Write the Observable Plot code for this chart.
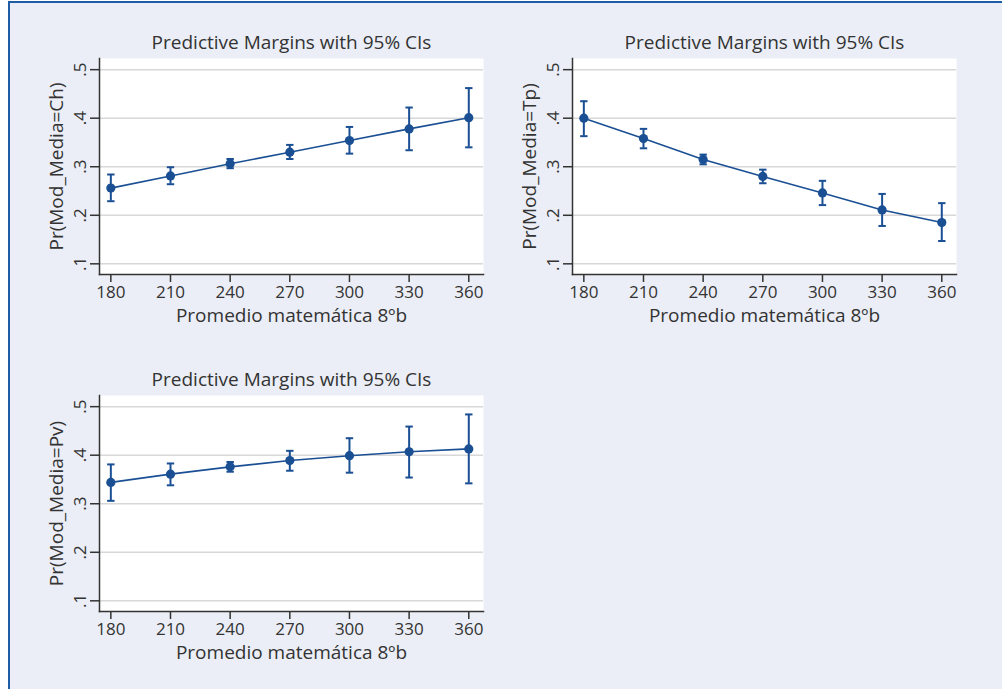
<!DOCTYPE html>
<html>
<head>
<meta charset="utf-8">
<script src="https://cdn.jsdelivr.net/npm/d3@7"></script>
<script src="https://cdn.jsdelivr.net/npm/@observablehq/plot@0.6"></script>
<style>
  html, body { margin: 0; padding: 0; background: #ffffff; }
  #page { position: relative; width: 1002px; height: 689px; overflow: hidden; background: #ffffff; }
  #frame { position: absolute; left: 8px; top: 1px; right: 0; bottom: 0;
           background: #ebeef6; border-top: 2px solid #1f5ca6; border-left: 2px solid #1f5ca6; }
  .panel { position: absolute; }
  .panel svg { overflow: visible; }
</style>
</head>
<body>
<div id="page"><div id="frame"></div></div>
<script>
// Predicted probability of each media type by 8th-grade math score
const scores = [180, 210, 240, 270, 300, 330, 360];

const chMargin = [0.256, 0.281, 0.306, 0.330, 0.354, 0.378, 0.401];
const chLow    = [0.229, 0.264, 0.297, 0.316, 0.327, 0.334, 0.340];
const chHigh   = [0.284, 0.299, 0.316, 0.345, 0.382, 0.422, 0.462];

const tpMargin = [0.400, 0.358, 0.315, 0.280, 0.246, 0.211, 0.185];
const tpLow    = [0.363, 0.338, 0.305, 0.266, 0.221, 0.178, 0.147];
const tpHigh   = [0.435, 0.378, 0.325, 0.294, 0.271, 0.244, 0.225];

const pvMargin = [0.344, 0.361, 0.376, 0.389, 0.399, 0.407, 0.413];
const pvLow    = [0.306, 0.338, 0.366, 0.368, 0.364, 0.354, 0.342];
const pvHigh   = [0.381, 0.383, 0.386, 0.409, 0.435, 0.459, 0.484];

const xTicks = [180, 210, 240, 270, 300, 330, 360];
const yTicks = [0.1, 0.2, 0.3, 0.4, 0.5];

const panelTitle = "Predictive Margins with 95% CIs";
const xTitle = "Promedio matemática 8ºb";
const yTitles = ["Pr(Mod_Media=Ch)", "Pr(Mod_Media=Tp)", "Pr(Mod_Media=Pv)"];

const blue = "#1a4f94";
const ink = "#333333";
const font = "'Open Sans', sans-serif";
const tickFs = 17;
const titleFs = 19;

// horizontal cap drawn at each end of a confidence interval
const capSymbol = {
  draw(ctx, size) {
    const w = Math.sqrt(size / Math.PI);
    ctx.moveTo(-w, 0);
    ctx.lineTo(w, 0);
  }
};

function panel(margin, low, high, yTitle) {
  const rows = scores.map((s, i) => ({x: s, y: margin[i], lo: low[i], hi: high[i]}));
  return Plot.plot({
    width: 500,
    height: 337,
    marginLeft: 99,
    marginRight: 17,
    marginTop: 58,
    marginBottom: 63,
    style: {fontFamily: font, fontSize: tickFs + "px", color: ink, background: "transparent", overflow: "visible"},
    x: {domain: [174.3, 367.4], ticks: xTicks},
    y: {domain: [0.078, 0.523], ticks: yTicks},
    marks: [
      Plot.frame({fill: "white", stroke: "none"}),
      Plot.gridY(yTicks, {stroke: "#d8d8d8", strokeOpacity: 1, strokeWidth: 1.5}),
      Plot.axisX(xTicks, {tickSize: 8, tickPadding: 3, stroke: ink, strokeWidth: 1.5, fill: ink,
                          fontSize: tickFs, label: null}),
      Plot.axisY(yTicks, {tickSize: 9, tickPadding: 5, tickRotate: -90, stroke: ink, strokeWidth: 1.5, fill: ink,
                          fontSize: tickFs, tickFormat: d => String(d).replace(/^0/, ""), label: null}),
      Plot.frame({anchor: "left", stroke: ink, strokeWidth: 1.5}),
      Plot.frame({anchor: "bottom", stroke: ink, strokeWidth: 1.5}),
      Plot.line(rows, {x: "x", y: "y", stroke: blue, strokeWidth: 1.6}),
      Plot.ruleX(rows, {x: "x", y1: "lo", y2: "hi", stroke: blue, strokeWidth: 2}),
      Plot.dot(rows, {x: "x", y: "lo", symbol: capSymbol, r: 3.7, stroke: blue, strokeWidth: 2}),
      Plot.dot(rows, {x: "x", y: "hi", symbol: capSymbol, r: 3.7, stroke: blue, strokeWidth: 2}),
      Plot.dot(rows, {x: "x", y: "y", r: 4.6, fill: blue, stroke: "none"}),
      Plot.text([panelTitle], {frameAnchor: "top", dy: -16, lineAnchor: "middle", fill: ink, fontSize: titleFs}),
      Plot.text([xTitle], {frameAnchor: "bottom", dy: 41, lineAnchor: "middle", fill: ink, fontSize: titleFs}),
      Plot.text([yTitle], {frameAnchor: "left", dx: -43, rotate: -90, textAnchor: "middle", lineAnchor: "middle",
                           fill: ink, fontSize: titleFs})
    ]
  });
}

const page = document.getElementById("page");
const specs = [
  {m: chMargin, lo: chLow, hi: chHigh, t: yTitles[0], left: 0, top: 0},
  {m: tpMargin, lo: tpLow, hi: tpHigh, t: yTitles[1], left: 472.5, top: 0},
  {m: pvMargin, lo: pvLow, hi: pvHigh, t: yTitles[2], left: 0, top: 337}
];
for (const s of specs) {
  const div = document.createElement("div");
  div.className = "panel";
  div.style.left = s.left + "px";
  div.style.top = s.top + "px";
  div.appendChild(panel(s.m, s.lo, s.hi, s.t));
  page.appendChild(div);
}
</script>
</body>
</html>
